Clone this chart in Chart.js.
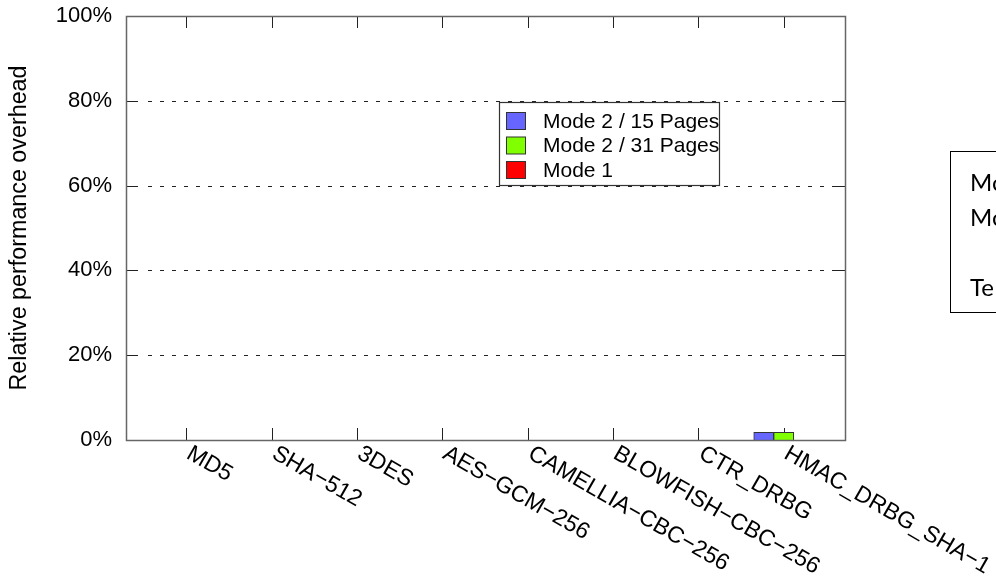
<!DOCTYPE html>
<html>
<head>
<meta charset="utf-8">
<script src="https://cdn.jsdelivr.net/npm/chart.js@4.4.0/dist/chart.umd.min.js"></script>
<style>
  html, body { margin: 0; padding: 0; background: #fff; overflow: hidden; width: 996px; height: 576px; }
  #wrap { position: relative; width: 996px; height: 576px; overflow: hidden; }
  canvas { position: absolute; left: 0; top: 0; }
  #note {
    position: absolute; left: 950px; top: 151px; width: 200px; height: 162px;
    border: 1.5px solid #000; box-sizing: border-box;
    font-family: Lato, "Open Sans", sans-serif; font-size: 24px; line-height: 35px;
    padding: 12px 0 0 19px; color: #000; white-space: pre;
  }
</style>
</head>
<body>
<div id="wrap">
  <canvas id="c" width="996" height="576"></canvas>
  <div id="note">Mo
Mo

Te</div>
</div>
<script>
// ---- data ----
const categories = ['MD5', 'SHA\u2212512', '3DES', 'AES\u2212GCM\u2212256', 'CAMELLIA\u2212CBC\u2212256', 'BLOWFISH\u2212CBC\u2212256', 'CTR_DRBG', 'HMAC_DRBG_SHA\u22121'];
const seriesNames = ['Mode 2 / 15 Pages', 'Mode 2 / 31 Pages', 'Mode 1'];
const mode2Pages15 = [0, 0, 0, 0, 0, 0, 0, 1.8];
const mode2Pages31 = [0, 0, 0, 0, 0, 0, 0, 1.8];
const mode1 = [0, 0, 0, 0, 0, 0, 0, 0];
const yTickValues = [0, 20, 40, 60, 80, 100];
const yTitle = 'Relative performance overhead';

const seriesColors = ['#6666ff', '#7fff00', '#ff0000'];
const FONT = '"Liberation Sans", Arial, sans-serif';

function toPoints(arr) { return arr.map((v, i) => ({ x: i, y: v })); }

const framePlugin = {
  id: 'frame',
  beforeDatasetsDraw(chart) {
    const ctx = chart.ctx;
    const a = chart.chartArea;
    const ys = chart.scales.y;
    const xs = chart.scales.x;
    const TL = 12;
    ctx.save();
    // dashed grid
    ctx.strokeStyle = '#222';
    ctx.lineWidth = 1;
    ctx.setLineDash([4, 8]);
    yTickValues.forEach(v => {
      if (v === 0 || v === 100) return;
      const y = Math.round(ys.getPixelForValue(v)) + 0.5;
      ctx.beginPath();
      ctx.moveTo(a.left + TL + 10, y);
      ctx.lineTo(a.right - TL, y);
      ctx.stroke();
    });
    ctx.setLineDash([]);
    // y ticks (left and mirrored right)
    ctx.strokeStyle = '#222';
    yTickValues.forEach(v => {
      const y = Math.round(ys.getPixelForValue(v)) + 0.5;
      ctx.beginPath();
      ctx.moveTo(a.left, y); ctx.lineTo(a.left + TL, y);
      ctx.moveTo(a.right, y); ctx.lineTo(a.right - TL, y);
      ctx.stroke();
    });
    // x ticks (bottom and mirrored top)
    categories.forEach((c, i) => {
      const x = Math.round(xs.getPixelForValue(i)) + 0.5;
      ctx.beginPath();
      ctx.moveTo(x, a.bottom); ctx.lineTo(x, a.bottom - TL);
      ctx.moveTo(x, a.top); ctx.lineTo(x, a.top + TL);
      ctx.stroke();
    });
    ctx.restore();
  },
  afterDraw(chart) {
    const ctx = chart.ctx;
    const a = chart.chartArea;
    const xs = chart.scales.x;
    ctx.save();
    // border
    ctx.strokeStyle = '#666';
    ctx.lineWidth = 1.5;
    ctx.strokeRect(Math.round(a.left) + 0.5, Math.round(a.top) + 0.5, Math.round(a.right - a.left), Math.round(a.bottom - a.top));
    // rotated x labels
    ctx.fillStyle = '#000';
    ctx.font = '23px ' + FONT;
    ctx.textAlign = 'left';
    ctx.textBaseline = 'top';
    categories.forEach((c, i) => {
      const x = xs.getPixelForValue(i);
      ctx.save();
      ctx.translate(x + 8, a.bottom + 2);
      ctx.rotate(30 * Math.PI / 180);
      ctx.fillText(c, 0, 0);
      ctx.restore();
    });
    // legend
    const lx = 499.5, ly = 102.5, lw = 220, lh = 83;
    ctx.fillStyle = '#fff';
    ctx.fillRect(lx, ly, lw, lh);
    ctx.strokeStyle = '#333';
    ctx.lineWidth = 1.2;
    ctx.strokeRect(lx, ly, lw, lh);
    ctx.font = '21px ' + FONT;
    ctx.textBaseline = 'middle';
    chart.data.datasets.forEach((ds, i) => {
      const sy = 112 + i * 24.5;
      ctx.fillStyle = ds.backgroundColor;
      ctx.fillRect(506.5, sy + 0.5, 19, 17);
      ctx.strokeStyle = '#333';
      ctx.lineWidth = 1;
      ctx.strokeRect(506.5, sy + 0.5, 19, 17);
      ctx.fillStyle = '#000';
      ctx.fillText(ds.label, 543, sy + 10);
    });
    ctx.restore();
  }
};

new Chart(document.getElementById('c'), {
  type: 'bar',
  data: {
    datasets: [
      { label: seriesNames[0], data: toPoints(mode2Pages15), backgroundColor: seriesColors[0], borderColor: '#333', borderWidth: 1 },
      { label: seriesNames[1], data: toPoints(mode2Pages31), backgroundColor: seriesColors[1], borderColor: '#333', borderWidth: 1 },
      { label: seriesNames[2], data: toPoints(mode1), backgroundColor: seriesColors[2], borderColor: '#333', borderWidth: 1 }
    ]
  },
  options: {
    responsive: false,
    animation: false,
    barThickness: 20,
    layout: { padding: { top: 16, right: 151, left: 0, bottom: 0 } },
    plugins: { legend: { display: false }, tooltip: { enabled: false } },
    scales: {
      x: {
        type: 'linear',
        offset: false,
        min: -0.706,
        max: 7.718,
        grid: { display: false, drawTicks: false, offset: false },
        border: { display: false },
        ticks: { display: false },
        afterFit(s) { s.height = 136; s.paddingTop = 0; s.paddingBottom = 0; s.paddingLeft = 0; s.paddingRight = 0; }
      },
      y: {
        min: 0,
        max: 100,
        grid: { display: false, drawTicks: false },
        border: { display: false },
        afterBuildTicks(s) { s.ticks = yTickValues.map(v => ({ value: v })); },
        ticks: {
          padding: 14,
          color: '#000',
          font: { family: FONT, size: 22 },
          callback: v => v + '%'
        },
        title: {
          display: true,
          text: yTitle,
          color: '#000',
          font: { family: FONT, size: 23.3 },
          padding: { top: 6, bottom: 0 }
        },
        afterFit(s) { s.width = 126; s.paddingTop = 0; s.paddingBottom = 0; }
      }
    }
  },
  plugins: [framePlugin]
});
</script>
</body>
</html>
